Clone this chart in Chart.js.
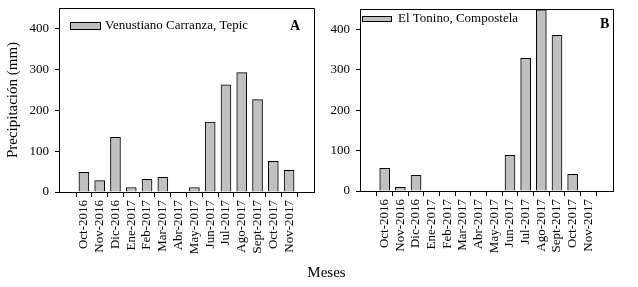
<!DOCTYPE html>
<html>
<head>
<meta charset="utf-8">
<script src="https://cdn.jsdelivr.net/npm/chart.js@4/dist/chart.umd.min.js"></script>
<style>
  html, body { margin: 0; padding: 0; background: #fff; }
  #wrap { position: relative; width: 638px; height: 287px; overflow: hidden; }
  .box { position: absolute; top: 0; height: 287px; }
  #boxA { left: 0; width: 320px; }
  #boxB { left: 318px; width: 320px; }
  #xtitle { position: absolute; left: 0; width: 653px; top: 264px; text-align: center;
            font-family: "Liberation Serif", serif; font-size: 15px; color: #000; }
</style>
</head>
<body>
<div id="wrap">
  <div class="box" id="boxA"><canvas id="chartA" width="320" height="287"></canvas></div>
  <div class="box" id="boxB"><canvas id="chartB" width="320" height="287"></canvas></div>
  <div id="xtitle">Meses</div>
</div>
<script>
// ---- data ----
const months = ["Oct-2016","Nov-2016","Dic-2016","Ene-2017","Feb-2017","Mar-2017","Abr-2017",
                "May-2017","Jun-2017","Jul-2017","Ago-2017","Sept-2017","Oct-2017","Nov-2017"];
const tepicValues = [48, 28, 134, 11, 31, 36, 0, 11, 171, 262, 292, 226, 75, 53];
const compostelaValues = [56, 9, 39, 0, 0, 0, 0, 0, 88, 328, 448, 385, 41, 0];
const yTicks = [0, 100, 200, 300, 400];
const seriesA = "Venustiano Carranza, Tepic";
const seriesB = "El Tonino, Compostela";
const yTitle = "Precipitación (mm)";

const FONT = "Liberation Serif";

function boxLegendPlugin(cfg) {
  return {
    id: 'boxLegend',
    afterDraw(chart) {
      const ctx = chart.ctx, a = chart.chartArea;
      ctx.save();
      ctx.strokeStyle = '#000';
      ctx.lineWidth = 1;
      ctx.beginPath();
      ctx.moveTo(Math.round(a.left) + 0.5, Math.round(a.bottom));
      ctx.lineTo(Math.round(a.left) + 0.5, Math.round(a.top) + 0.5);
      ctx.lineTo(Math.round(a.right) + 0.5, Math.round(a.top) + 0.5);
      ctx.lineTo(Math.round(a.right) + 0.5, Math.round(a.bottom) + 0.5);
      ctx.stroke();
      const ds = chart.data.datasets[0];
      ctx.fillStyle = ds.backgroundColor;
      ctx.fillRect(cfg.lx, cfg.ly, cfg.lw, cfg.lh);
      ctx.strokeRect(cfg.lx + 0.5, cfg.ly + 0.5, cfg.lw, cfg.lh);
      ctx.fillStyle = '#000';
      ctx.font = '13px "' + FONT + '"';
      ctx.textBaseline = 'middle';
      ctx.textAlign = 'left';
      ctx.fillText(ds.label, cfg.tx, cfg.ty);
      ctx.font = 'bold 14px "' + FONT + '"';
      ctx.fillText(cfg.panel, cfg.px, cfg.py);
      ctx.restore();
    }
  };
}

function makeChart(id, label, values, opts) {
  const data = values.map((v, i) => ({ x: i, y: v }));
  return new Chart(document.getElementById(id), {
    type: 'bar',
    data: {
      datasets: [{
        label: label,
        data: data,
        backgroundColor: '#c0c0c0',
        borderColor: '#000',
        borderWidth: 1,
        borderSkipped: 'bottom',
        barThickness: 10
      }]
    },
    options: {
      responsive: false,
      animation: false,
      devicePixelRatio: 1,
      layout: { padding: { top: opts.top, right: opts.right, left: 0, bottom: 0 } },
      plugins: { legend: { display: false }, tooltip: { enabled: false } },
      scales: {
        x: {
          type: 'linear',
          min: -1, max: months.length,
          afterBuildTicks: s => { s.ticks = months.map((_, i) => ({ value: i })); },
          afterFit: s => { s.height = opts.xh; s.paddingLeft = 0; s.paddingRight = 0; },
          grid: { drawOnChartArea: false, drawTicks: true, tickLength: 5, color: '#000' },
          border: { display: true, color: '#000' },
          ticks: {
            autoSkip: false, minRotation: 90, maxRotation: 90, padding: 3,
            color: '#000', font: { family: FONT, size: 13 },
            callback: v => months[v]
          }
        },
        y: {
          min: 0, max: 450,
          afterBuildTicks: s => { s.ticks = yTicks.map(v => ({ value: v })); },
          afterFit: s => { s.width = opts.yw; s.paddingTop = 0; s.paddingBottom = 0; },
          grid: { drawOnChartArea: false, drawTicks: true, tickLength: 4, color: '#000' },
          border: { display: true, color: '#000' },
          ticks: { padding: 6, color: '#000', font: { family: FONT, size: 13 } },
          title: {
            display: !!opts.ytitle, text: opts.ytitle || '', color: '#000',
            font: { family: FONT, size: 15 }, padding: { top: 4, bottom: 0 }
          }
        }
      }
    },
    plugins: [boxLegendPlugin(opts.legend)]
  });
}

makeChart('chartA', seriesA, tepicValues, {
  top: 8, right: 6, yw: 59, xh: 95, ytitle: yTitle,
  legend: { lx: 70, ly: 22, lw: 30, lh: 7, tx: 105, ty: 26, panel: 'A', px: 290, py: 26 }
});
makeChart('chartB', seriesB, compostelaValues, {
  top: 9, right: 25, yw: 42, xh: 96,
  legend: { lx: 44, ly: 16, lw: 29, lh: 5, tx: 80, ty: 19, panel: 'B', px: 282, py: 24 }
});
</script>
</body>
</html>
